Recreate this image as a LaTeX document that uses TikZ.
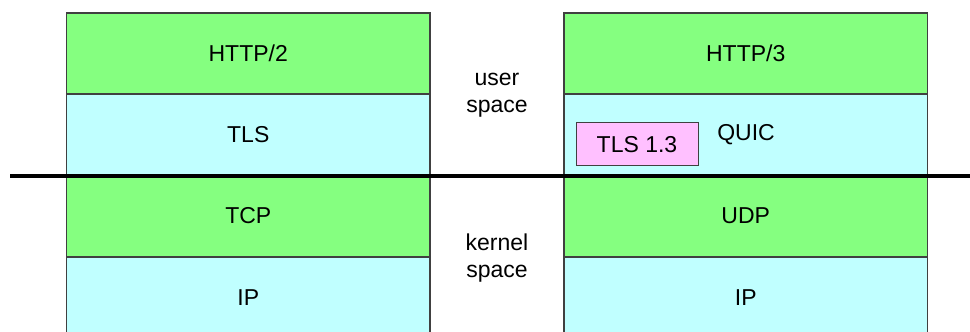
\documentclass[tikz,border=0pt]{standalone}
\usepackage{fontspec}
\setmainfont{Liberation Sans}
\definecolor{lgreen}{HTML}{85FF80}
\definecolor{lcyan}{HTML}{C0FFFF}
\definecolor{lpink}{HTML}{FFC0FF}
\definecolor{edge}{HTML}{404040}
\begin{document}
\begin{tikzpicture}[x=1pt,y=-1pt,
  every node/.style={font=\fontsize{23}{27.5}\selectfont, text=black},
  layer/.style={draw=edge, line width=1.3pt, minimum width=363.5pt, minimum height=81pt, inner sep=0pt, outer sep=0pt},
  green layer/.style={layer, fill=lgreen},
  cyan layer/.style={layer, fill=lcyan},
  tlsbox/.style={draw=edge, line width=1pt, fill=lpink, minimum width=122pt, minimum height=43pt, inner sep=0pt},
  label/.style={align=center, inner sep=0pt}]
\useasboundingbox (0,0) rectangle (970,332);
% left stack
\node[green layer] (http2) at (248.25,53.5) {HTTP/2};
\node[cyan layer] (tls) at (248.25,134.5) {TLS};
\node[green layer] (tcp) at (248.25,216) {TCP};
\node[cyan layer] (ipl) at (248.25,297.5) {IP};
% right stack
\node[green layer] (http3) at (745.75,53.5) {HTTP/3};
\node[cyan layer] (quic) at (745.75,134.5) {};
\node[green layer] (udp) at (745.75,216) {UDP};
\node[cyan layer] (ipr) at (745.75,297.5) {IP};
\node[label] (quiclabel) at (746,135) {QUIC};
\node[tlsbox] (tls13) at (637,144.2) {TLS 1.3};
% middle labels
\node[label] (user) at (497,95) {user\\space};
\node[label] (kernel) at (497,258) {kernel\\space};
% boundary line
\coordinate (lineL) at (10,175.5);
\coordinate (lineR) at (970,175.5);
\draw[line width=4pt, black] (lineL) -- (lineR);
\end{tikzpicture}
\end{document}
